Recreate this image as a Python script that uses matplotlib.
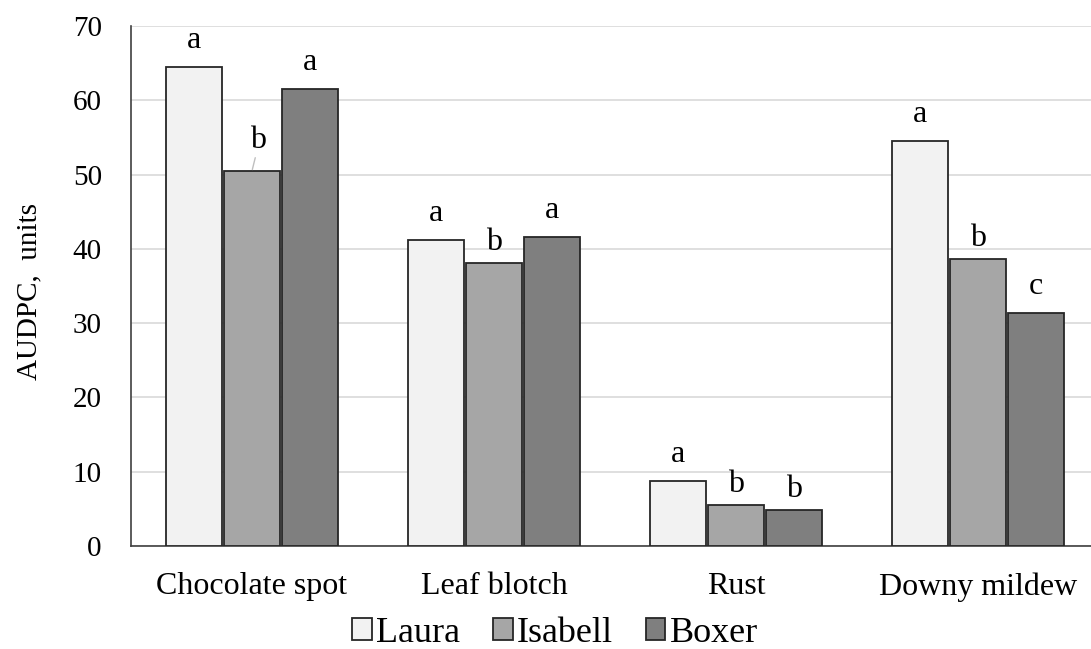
import matplotlib
matplotlib.use("Agg")
import matplotlib.pyplot as plt
import numpy as np

# values
diseases = ["Chocolate spot", "Leaf blotch", "Rust", "Downy mildew"]
cultivars = ["Laura", "Isabell", "Boxer"]
laura = [64.5, 41.2, 8.8, 54.5]
isabell = [50.5, 38.1, 5.5, 38.6]
boxer = [61.5, 41.6, 4.8, 31.4]
# significance letters per cultivar
laura_letters = ["a", "a", "a", "a"]
isabell_letters = ["b", "b", "b", "b"]
boxer_letters = ["a", "a", "b", "c"]

colors = ["#f2f2f2", "#a6a6a6", "#7f7f7f"]
serif = ["Liberation Serif", "DejaVu Serif"]
plt.rcParams["font.family"] = serif

fig = plt.figure(figsize=(10.91, 6.49), dpi=100)
ax = fig.add_axes([131/1091, 1 - 546/649, 968/1091, 520/649])

x = np.arange(len(diseases))
width = 0.228
offsets = [-0.24, 0.0, 0.24]
series = [laura, isabell, boxer]
letters = [laura_letters, isabell_letters, boxer_letters]

for k in range(3):
    bars = ax.bar(x + offsets[k], series[k], width, color=colors[k],
                  edgecolor="#262626", linewidth=1.3, label=cultivars[k], zorder=3)
    for i, b in enumerate(bars):
        let = letters[k][i]
        # baseline offset in points (ascender letters sit lower)
        dy = 9.4 if let == "b" else 13.7
        bx = b.get_x() + b.get_width() / 2
        top = b.get_height()
        if k == 1 and i == 0:
            # label moved up with a leader line
            ax.annotate(let, xy=(bx, top), xytext=(4, 16.5), textcoords="offset points",
                        ha="center", va="baseline", fontsize=23,
                        arrowprops=dict(arrowstyle="-", color="#bfbfbf", lw=1,
                                        shrinkA=0, shrinkB=1,
                                        relpos=(0.4, 0)))
        else:
            ax.annotate(let, xy=(bx, top), xytext=(0, dy), textcoords="offset points",
                        ha="center", va="baseline", fontsize=23)

ax.set_ylim(0, 70)
ax.set_yticks(np.arange(0, 71, 10))
ax.set_xlim(-0.5, len(diseases) - 0.5)
ax.set_xticks(x)
ax.set_xticklabels(diseases, fontsize=23)
ax.tick_params(axis="y", labelsize=21, length=0, pad=21)
ax.tick_params(axis="x", length=0, pad=19)
ax.yaxis.grid(True, color="#d9d9d9", linewidth=1.2, zorder=0)
ax.set_axisbelow(True)
for s in ["top", "right"]:
    ax.spines[s].set_visible(False)
ax.spines["left"].set_color("#404040")
ax.spines["bottom"].set_color("#404040")
ax.spines["left"].set_linewidth(1.2)
ax.spines["bottom"].set_linewidth(1.2)
ax.set_ylabel("AUDPC,  units", fontsize=21)
ax.yaxis.set_label_coords(-0.092, 0.49)

fig.legend(loc="center", bbox_to_anchor=(555/1091, 1 - 633/649), ncol=3,
           frameon=False, fontsize=26, handlelength=0.55, handleheight=0.55,
           handletextpad=0.12, columnspacing=0.9, borderaxespad=0)

fig.savefig("out.png", dpi=100)
